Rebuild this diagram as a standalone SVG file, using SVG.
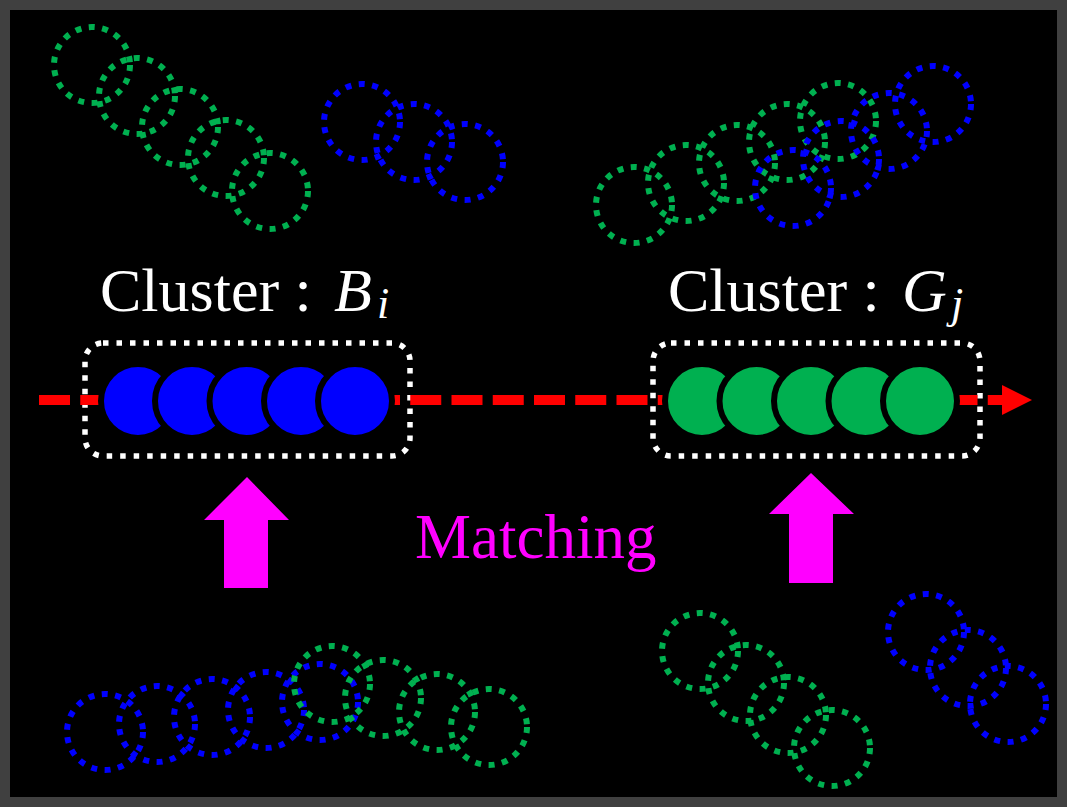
<svg xmlns="http://www.w3.org/2000/svg" width="1067" height="807" viewBox="0 0 1067 807">
<style>
.dg{fill:none;stroke:#00B050;stroke-width:6;stroke-dasharray:6 7.5}
.db{fill:none;stroke:#0000FF;stroke-width:6;stroke-dasharray:6 7.5}
.box{fill:none;stroke:#FFFFFF;stroke-width:5.5;stroke-dasharray:5.5 8}
.fb{fill:#0000FF;stroke:#000000;stroke-width:6}
.fg{fill:#00B050;stroke:#000000;stroke-width:6}
.lbl{font-family:"Liberation Serif","Times New Roman",serif;font-size:62px;fill:#FFFFFF}
.it{font-style:italic}
.mag{fill:#FF00FF}
</style>
<rect x="0" y="0" width="1067" height="807" fill="#404040"/>
<rect x="10" y="10" width="1047" height="787" fill="#000000"/>

<g id="scatter-top-left">
<circle class="dg" cx="92" cy="65" r="38"/>
<circle class="dg" cx="137" cy="96" r="38"/>
<circle class="dg" cx="180" cy="127" r="38"/>
<circle class="dg" cx="226" cy="158" r="38"/>
<circle class="dg" cx="270" cy="191" r="38"/>
</g>
<g id="scatter-top-mid">
<circle class="db" cx="362" cy="122" r="38"/>
<circle class="db" cx="414" cy="142" r="38"/>
<circle class="db" cx="465" cy="162" r="38"/>
</g>
<g id="scatter-top-right">
<circle class="dg" cx="634" cy="205" r="38"/>
<circle class="dg" cx="686" cy="183" r="38"/>
<circle class="dg" cx="737" cy="163" r="38"/>
<circle class="dg" cx="787" cy="142" r="38"/>
<circle class="dg" cx="838" cy="121" r="38"/>
<circle class="db" cx="793" cy="188" r="38"/>
<circle class="db" cx="841" cy="159" r="38"/>
<circle class="db" cx="889" cy="131" r="38"/>
<circle class="db" cx="933" cy="104" r="38"/>
</g>
<g id="scatter-bottom-left">
<circle class="db" cx="105" cy="732" r="38"/>
<circle class="db" cx="157" cy="724" r="38"/>
<circle class="db" cx="212" cy="717" r="38"/>
<circle class="db" cx="266" cy="710" r="38"/>
<circle class="db" cx="320" cy="702" r="38"/>
<circle class="dg" cx="332" cy="684" r="38"/>
<circle class="dg" cx="383" cy="698" r="38"/>
<circle class="dg" cx="437" cy="712" r="38"/>
<circle class="dg" cx="489" cy="727" r="38"/>
</g>
<g id="scatter-bottom-right">
<circle class="dg" cx="700" cy="651" r="38"/>
<circle class="dg" cx="746" cy="683" r="38"/>
<circle class="dg" cx="788" cy="715" r="38"/>
<circle class="dg" cx="832" cy="748" r="38"/>
<circle class="db" cx="926" cy="632" r="38"/>
<circle class="db" cx="968" cy="668" r="38"/>
<circle class="db" cx="1008" cy="704" r="38"/>
</g>

<g id="label-B">
<text class="lbl" x="100" y="311">Cluster : <tspan class="it" x="334">B</tspan><tspan class="it" x="377" y="318" font-size="44">i</tspan></text>
</g>
<g id="label-G">
<text class="lbl" x="668" y="311">Cluster : <tspan class="it" x="902">G</tspan><tspan class="it" x="951" y="318" font-size="44">j</tspan></text>
</g>

<g id="cluster-B-box"><rect class="box" x="85" y="343" width="325" height="113" rx="18"/></g>
<g id="cluster-G-box"><rect class="box" x="653" y="343" width="327" height="113" rx="18"/></g>

<g id="connectors">
<line x1="39" y1="400" x2="1003" y2="400" stroke="#FF0000" stroke-width="10" stroke-dasharray="31 10.25"/>
<polygon points="1002,385 1032,400 1002,415" fill="#FF0000"/>
</g>

<g id="cluster-B">
<circle class="fb" cx="138" cy="401" r="37"/>
<circle class="fb" cx="192" cy="401" r="37"/>
<circle class="fb" cx="246.5" cy="401" r="37"/>
<circle class="fb" cx="301" cy="401" r="37"/>
<circle class="fb" cx="355" cy="401" r="37"/>
</g>
<g id="cluster-G">
<circle class="fg" cx="702" cy="401" r="37"/>
<circle class="fg" cx="756.5" cy="401" r="37"/>
<circle class="fg" cx="811" cy="401" r="37"/>
<circle class="fg" cx="865.5" cy="401" r="37"/>
<circle class="fg" cx="920" cy="401" r="37"/>
</g>

<g id="arrow-left"><polygon class="mag" points="247,477 289,520 268,520 268,588 224,588 224,520 204,520"/></g>
<g id="arrow-right"><polygon class="mag" points="811,473 854,514 833,514 833,583 789,583 789,514 769,514"/></g>
<g id="label-matching">
<text x="415" y="558" font-family="Liberation Serif, 'Times New Roman', serif" font-size="63" fill="#FF00FF">Matching</text>
</g>
</svg>
